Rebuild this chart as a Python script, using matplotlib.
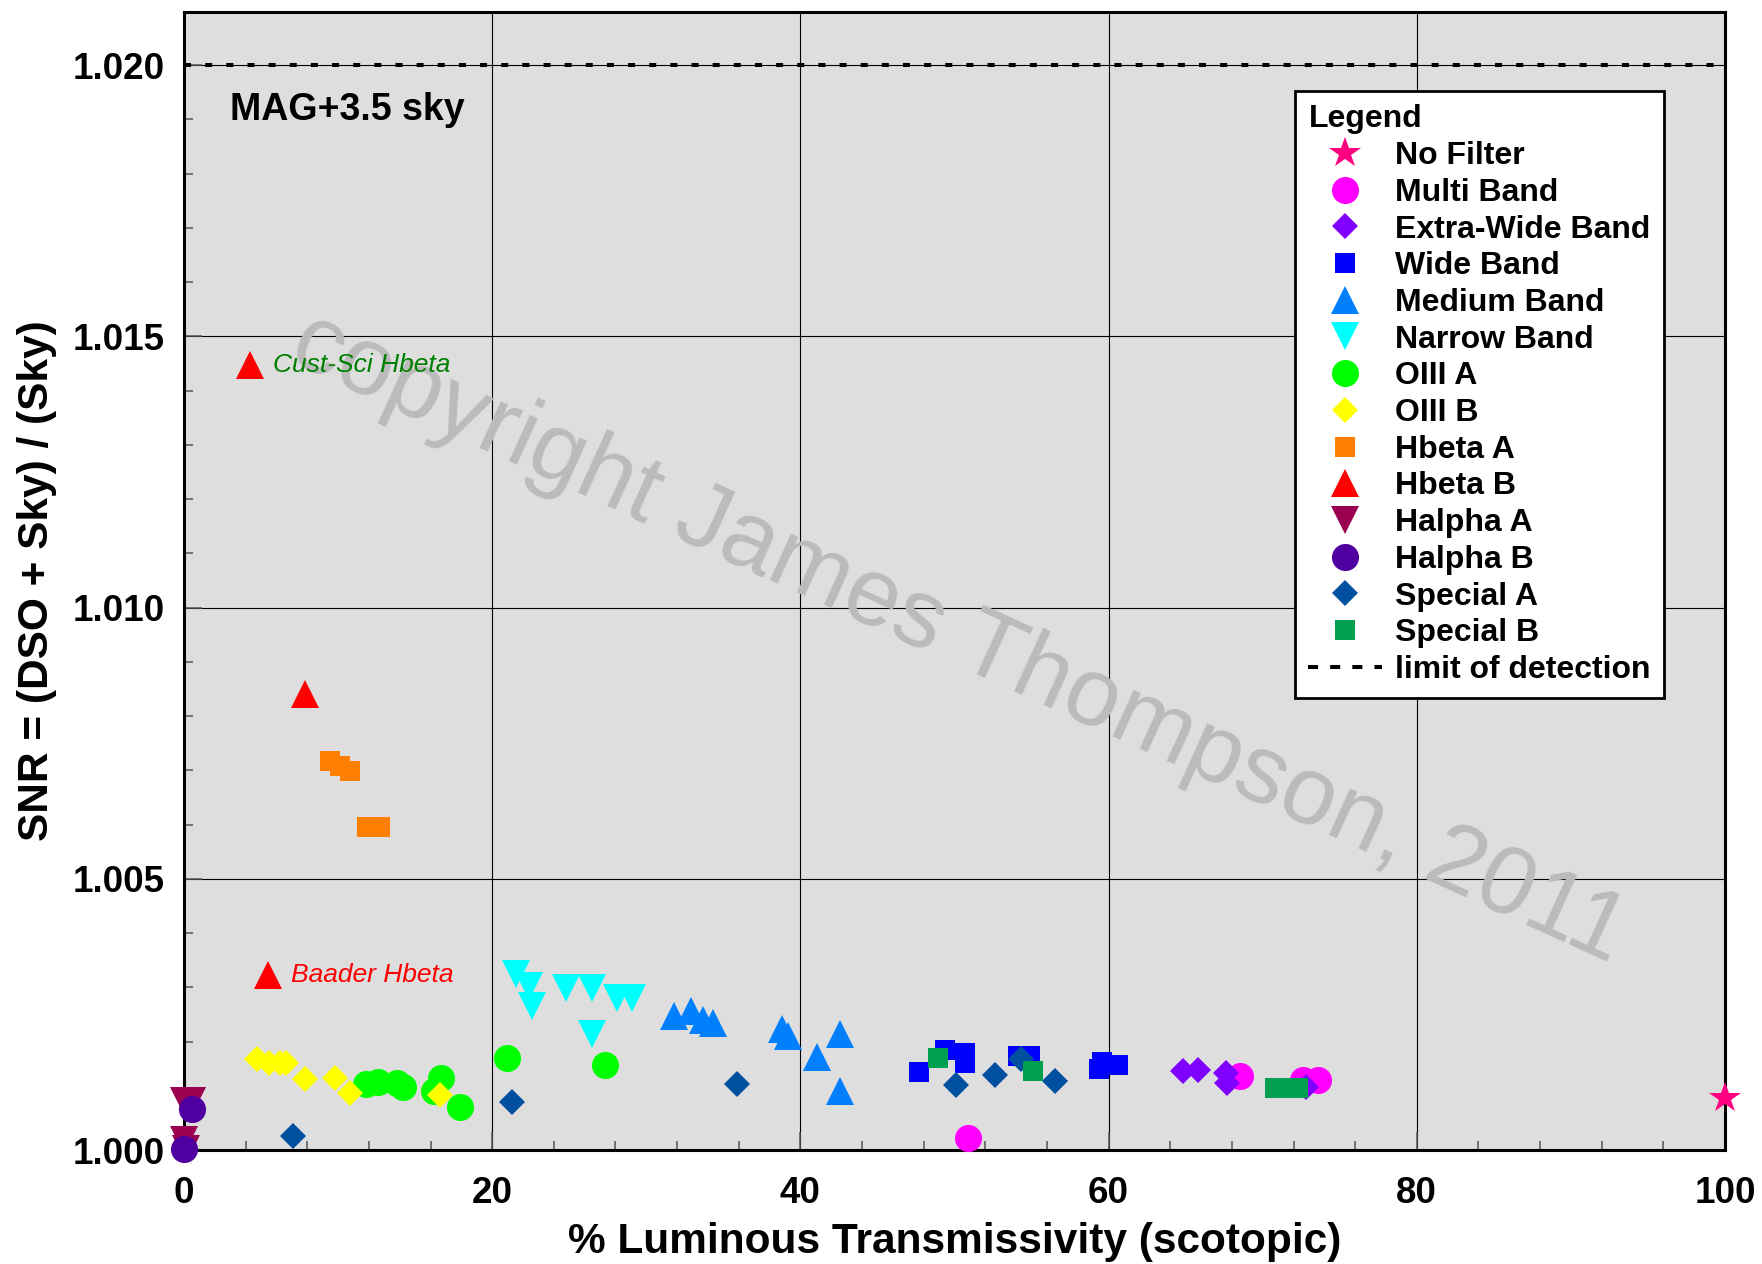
import matplotlib
matplotlib.use('Agg')
import matplotlib.pyplot as plt
from matplotlib.lines import Line2D
from matplotlib.ticker import MultipleLocator, FormatStrFormatter

plt.rcParams['font.family'] = ['Liberation Sans', 'DejaVu Sans']

# ---------------- data ----------------
no_filter_x = [100.0]
no_filter_y = [1.00095]

multi_x = [50.9, 68.5, 72.6, 73.6]
multi_y = [1.00023, 1.00136, 1.00129, 1.00129]

extra_wide_x = [64.8, 65.8, 67.6, 67.7, 72.8]
extra_wide_y = [1.00146, 1.00147, 1.00142, 1.00124, 1.00116]

wide_x = [47.7, 49.4, 50.7, 50.7, 54.1, 54.9, 59.4, 59.6, 60.6]
wide_y = [1.00144, 1.00184, 1.00178, 1.00161, 1.00173, 1.00173, 1.00150, 1.00163, 1.00157]

medium_x = [31.8, 32.9, 33.65, 34.3, 38.8, 39.2, 41.1, 42.6, 42.6]
medium_y = [1.00247, 1.00256, 1.00240, 1.00235, 1.00223, 1.00211, 1.00171, 1.00214, 1.00108]

narrow_x = [21.55, 22.4, 22.6, 24.8, 26.5, 26.5, 28.1, 29.1]
narrow_y = [1.00324, 1.00303, 1.00266, 1.00299, 1.00299, 1.00214, 1.00281, 1.00281]

oiii_a_x = [20.96, 27.3, 11.8, 12.6, 13.8, 14.2, 16.7, 16.2, 17.9]
oiii_a_y = [1.00170, 1.00157, 1.00121, 1.00126, 1.00123, 1.00116, 1.00133, 1.00109, 1.00080]

oiii_b_x = [4.75, 5.5, 6.2, 6.6, 7.85, 9.8, 10.8, 16.6]
oiii_b_y = [1.00167, 1.00161, 1.00160, 1.00160, 1.00130, 1.00132, 1.00106, 1.00101]

hbeta_a_x = [9.5, 10.1, 10.8, 11.85, 12.7]
hbeta_a_y = [1.00717, 1.00708, 1.00699, 1.00596, 1.00596]

hbeta_b_x = [4.28, 7.87, 5.42]
hbeta_b_y = [1.01447, 1.00840, 1.00322]

halpha_a_x = [0.0, 0.5, 0.0, 0.1]
halpha_a_y = [1.00090, 1.00090, 1.00018, 1.00002]

halpha_b_x = [0.54, 0.0]
halpha_b_y = [1.00076, 1.00001]

special_a_x = [7.06, 21.3, 35.9, 50.1, 52.6, 54.3, 56.5]
special_a_y = [1.00025, 1.00089, 1.00121, 1.00120, 1.00138, 1.00167, 1.00128]

special_b_x = [48.9, 55.1, 70.8, 71.5, 72.3]
special_b_y = [1.00170, 1.00146, 1.00115, 1.00115, 1.00115]

limit_of_detection = 1.020

series_labels = ['No Filter', 'Multi Band', 'Extra-Wide Band', 'Wide Band', 'Medium Band',
                 'Narrow Band', 'OIII A', 'OIII B', 'Hbeta A', 'Hbeta B', 'Halpha A',
                 'Halpha B', 'Special A', 'Special B']

x_ticks = [0, 20, 40, 60, 80, 100]
y_ticks = [1.000, 1.005, 1.010, 1.015, 1.020]

# ---------------- styles ----------------
styles = [
    ('*', 23.5, '#FF0080'),
    ('o', 19.5, '#FF00FF'),
    ('D', 13.7, '#8000FF'),
    ('s', 14.4, '#0000FF'),
    ('^', 20.0, '#0080FF'),
    ('v', 20.0, '#00FFFF'),
    ('o', 19.5, '#00FF00'),
    ('D', 13.7, '#FFFF00'),
    ('s', 14.4, '#FF8000'),
    ('^', 20.0, '#FF0000'),
    ('v', 20.0, '#990050'),
    ('o', 19.5, '#5000A0'),
    ('D', 13.7, '#0050A0'),
    ('s', 14.4, '#00A050'),
]

series = [
    (no_filter_x, no_filter_y), (multi_x, multi_y), (extra_wide_x, extra_wide_y),
    (wide_x, wide_y), (medium_x, medium_y), (narrow_x, narrow_y),
    (oiii_a_x, oiii_a_y), (oiii_b_x, oiii_b_y), (hbeta_a_x, hbeta_a_y),
    (hbeta_b_x, hbeta_b_y), (halpha_a_x, halpha_a_y), (halpha_b_x, halpha_b_y),
    (special_a_x, special_a_y), (special_b_x, special_b_y),
]

W, H = 1762, 1264
fig = plt.figure(figsize=(W / 100, H / 100), dpi=100)
ax = fig.add_axes([184 / W, 1 - 1150 / H, (1725 - 184) / W, (1150 - 12) / H])
ax.set_facecolor('#DEDEDE')

ax.set_xlim(0, 100)
ax.set_ylim(1.000, 1.02098)
ax.set_xticks(x_ticks)
ax.set_yticks(y_ticks)
ax.xaxis.set_minor_locator(MultipleLocator(4))
ax.yaxis.set_minor_locator(MultipleLocator(0.001))
ax.yaxis.set_major_formatter(FormatStrFormatter('%.3f'))
ax.set_axisbelow(True)
ax.grid(True, which='major', color='black', linewidth=0.8)

ax.tick_params(which='both', direction='in', color='#555555', width=1.1,
               top=False, right=False)
ax.tick_params(which='major', length=13, labelsize=26.5)
ax.tick_params(which='minor', length=6.5)
ax.tick_params(axis='x', which='major', pad=19)
ax.tick_params(axis='y', which='major', pad=14)
for lab in ax.get_xticklabels() + ax.get_yticklabels():
    lab.set_fontweight('bold')

for sp in ax.spines.values():
    sp.set_linewidth(2.2)
    sp.set_color('black')

ax.set_xlabel('% Luminous Transmissivity (scotopic)', fontsize=30.5, fontweight='bold', labelpad=8)
ax.set_ylabel('SNR = (DSO + Sky) / (Sky)', fontsize=30.5, fontweight='bold', labelpad=11)

# watermark
ax.text(0.503, 0.449, 'copyright James Thompson, 2011', transform=ax.transAxes,
        fontsize=70, color='#BBBBBB', rotation=-24.5, ha='center', va='center',
        rotation_mode='anchor', zorder=1.5)

# limit of detection line
ax.axhline(limit_of_detection, color='black', linewidth=2.9,
           linestyle=(0, (1.75, 3.5)), dash_capstyle='butt', zorder=3)

handles = []
for (xs, ys), (m, ms, c), lbl in zip(series, styles, series_labels):
    ax.plot(xs, ys, linestyle='none', marker=m, markersize=ms, color=c,
            markeredgewidth=0, clip_on=False, zorder=4)
    handles.append(Line2D([], [], linestyle='none', marker=m, markersize=ms,
                          color=c, markeredgewidth=0))
handles.append(Line2D([], [], color='black', linewidth=2.9,
                      linestyle=(0, (2.5, 3.0)), dash_capstyle='butt'))
labels = series_labels + ['limit of detection']

leg = ax.legend(handles, labels, loc='upper left',
                bbox_to_anchor=(1295 / W, 1 - 91 / H), bbox_transform=fig.transFigure,
                borderaxespad=0, title='Legend', alignment='left',
                prop={'size': 23, 'weight': 'bold'},
                title_fontproperties={'size': 23, 'weight': 'bold'},
                frameon=True, fancybox=False, shadow=False,
                borderpad=0.42, handlelength=2.3, handletextpad=0.42,
                labelspacing=0.21, handleheight=0.7)
leg.get_frame().set_edgecolor('black')
leg.get_frame().set_linewidth(2.0)
leg.get_frame().set_facecolor('white')
leg.get_frame().set_alpha(1)
leg.set_zorder(10)

# annotations
ax.text(2.98, 1.01917, 'MAG+3.5 sky', fontsize=27, fontweight='bold',
        ha='left', va='center', zorder=5)
ax.text(5.78, 1.01447, 'Cust-Sci Hbeta', fontsize=19, style='italic',
        color='#008000', ha='left', va='center', zorder=5)
ax.text(6.94, 1.00323, 'Baader Hbeta', fontsize=19, style='italic',
        color='#FF0000', ha='left', va='center', zorder=5)

fig.savefig('out.png', dpi=100)
